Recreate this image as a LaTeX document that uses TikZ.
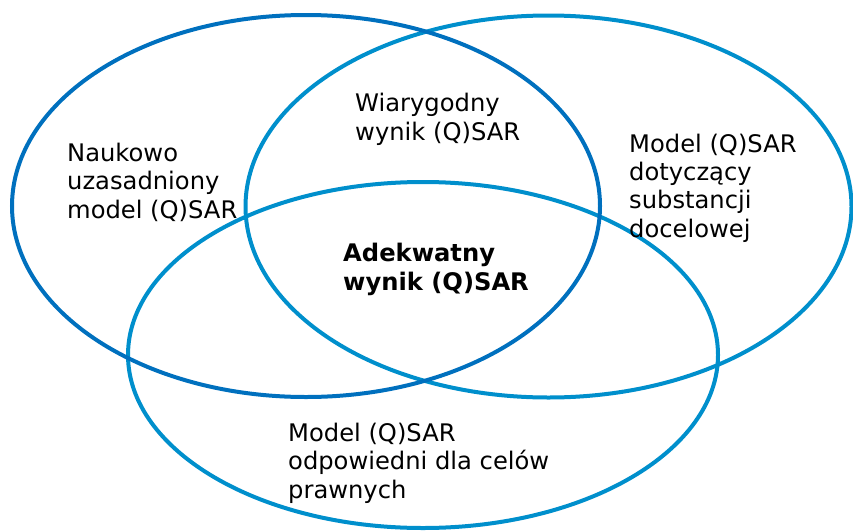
\documentclass[tikz,border=0pt]{standalone}
\usepackage{fontspec}
\setmainfont{DejaVu Sans}
\definecolor{darkblue}{HTML}{0070BE}
\definecolor{lightblue}{HTML}{008FCC}
\begin{document}
\begin{tikzpicture}[x=1pt,y=-1pt,
  ring/.style={line width=4pt},
  lbl/.style={anchor=base west, align=left, inner sep=0pt, font=\fontsize{24.2}{28.2}\selectfont}]
\useasboundingbox (0,0) rectangle (853,530);
\draw[ring, lightblue] (423,355) ellipse [x radius=295, y radius=173];
\draw[ring, lightblue] (548.5,206.5) ellipse [x radius=303, y radius=191];
\draw[ring, darkblue] (306,206) ellipse [x radius=294, y radius=191];
\node[lbl] (a) at (67,218) {Naukowo\\uzasadniony\\model (Q)SAR};
\node[lbl] (b) at (355,140) {Wiarygodny\\wynik (Q)SAR};
\node[lbl] (c) at (629,237) {Model (Q)SAR\\dotyczący\\substancji\\docelowej};
\node[lbl, font=\fontsize{24.2}{29}\selectfont\bfseries] (d) at (343,290) {Adekwatny\\wynik (Q)SAR};
\node[lbl] (e) at (288,498) {Model (Q)SAR\\odpowiedni dla celów\\prawnych};
\end{tikzpicture}
\end{document}
